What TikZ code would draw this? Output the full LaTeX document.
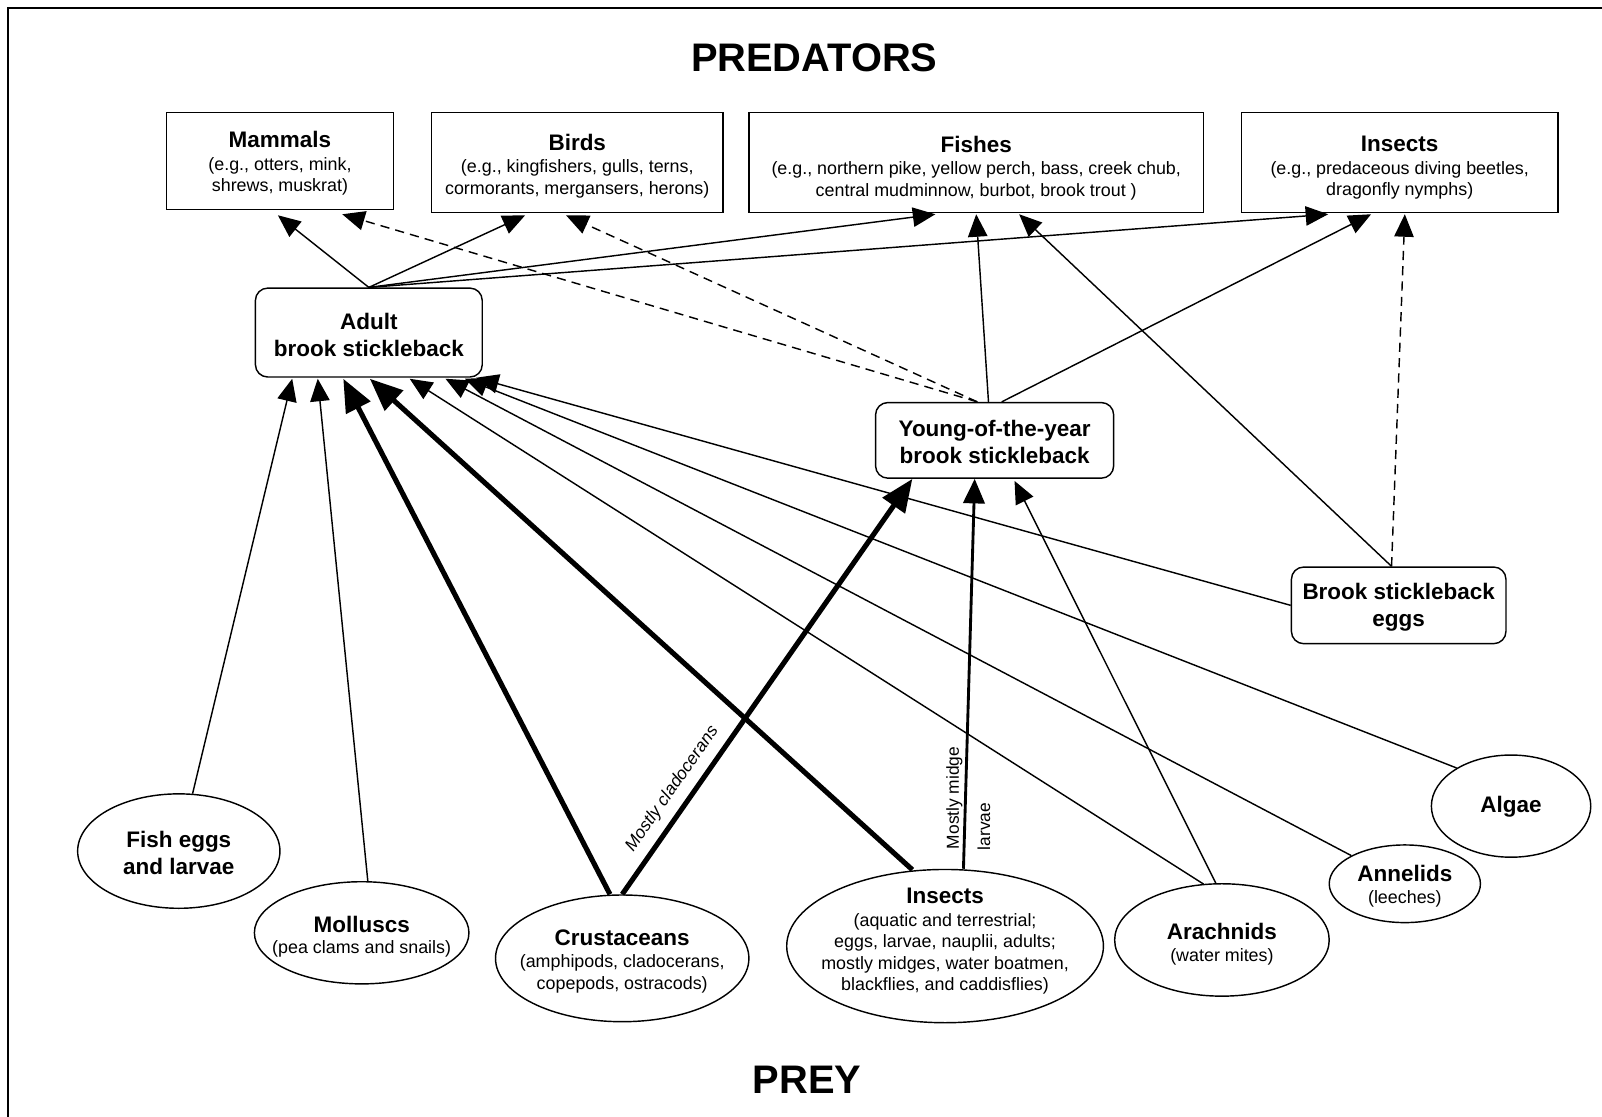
\documentclass[tikz,border=0pt]{standalone}
\usepackage{fontspec}
\setmainfont{Liberation Sans}
\usetikzlibrary{arrows.meta,shapes.geometric,calc}
\newcommand{\ttlf}{\fontsize{22}{26.5}\selectfont\bfseries}
\newcommand{\sbtf}{\fontsize{17.5}{21}\selectfont}
\newcommand{\lblf}{\fontsize{17}{20}\selectfont}
\begin{document}
\begin{tikzpicture}[x=1pt,y=-1pt,
  pbox/.style={draw, line width=1.4pt, inner sep=0pt},
  mbox/.style={draw, line width=1.4pt, rounded corners=12pt, inner sep=0pt},
  preyn/.style={draw, ellipse, line width=1.4pt, inner sep=0pt},
  txt/.style={inner sep=0pt, align=center, font=\sbtf},
  ttxt/.style={inner sep=0pt, align=center, font=\ttlf},
  thinarr/.style={line width=1.4pt, -{Triangle[length=22pt,width=19pt]}},
  thickarr/.style={line width=5pt, -{Triangle[length=32pt,width=26pt]}},
  medarr/.style={line width=2.8pt, -{Triangle[length=24pt,width=21pt]}},
  dasharr/.style={thinarr, dash pattern=on 9pt off 6pt},
  bigttl/.style={font=\fontsize{39}{44}\selectfont\bfseries, inner sep=0pt},
  lbl/.style={font=\lblf, inner sep=0pt}]
\useasboundingbox (0,0) rectangle (1568,1093);
\fill[white] (0,0) rectangle (1568,1093);
\draw[line width=2.2pt] (8,1110) -- (8,8) -- (1590,8);

% titles
\node[bigttl] (predt) at (797,57) {PREDATORS};
\node[bigttl] (preyt) at (790,1057) {PREY};

% predators
\node[pbox, minimum width=222pt, minimum height=95pt] (mammals) at (274,157.5) {};
\node[txt] (mammals-t) at ($(mammals)+(0,2.5)$)
  {{\ttlf Mammals}\\[1pt](e.g., otters, mink,\\shrews, muskrat)};
\node[pbox, minimum width=285pt, minimum height=98pt] (birds) at (565,159) {};
\node[txt] (birds-t) at ($(birds)+(0,3.5)$)
  {{\ttlf Birds}\\[1pt](e.g., kingfishers, gulls, terns,\\cormorants, mergansers, herons)};
\node[pbox, minimum width=445pt, minimum height=98pt] (fishes) at (955.5,159) {};
\node[txt] (fishes-t) at ($(fishes)+(0,5.5)$)
  {{\ttlf Fishes}\\[1pt](e.g., northern pike, yellow perch, bass, creek chub,\\central mudminnow, burbot, brook trout )};
\node[pbox, minimum width=310pt, minimum height=98pt] (inspred) at (1370,159) {};
\node[txt] (inspred-t) at ($(inspred)+(0,5.5)$)
  {{\ttlf Insects}\\[1pt](e.g., predaceous diving beetles,\\dragonfly nymphs)};

% stickleback stages
\node[mbox, minimum width=222pt, minimum height=87pt] (adult) at (361,325.5) {};
\node[ttxt] (adult-t) at ($(adult)+(0,2.5)$) {Adult\\brook stickleback};
\node[mbox, minimum width=233pt, minimum height=74pt] (young) at (973.5,431) {};
\node[ttxt] (young-t) at ($(young)+(0,2)$) {Young-of-the-year\\brook stickleback};
\node[mbox, minimum width=210pt, minimum height=75pt] (eggs) at (1369,592.5) {};
\node[ttxt] (eggs-t) at ($(eggs)+(0,2)$) {Brook stickleback\\eggs};

% prey
\node[preyn, minimum width=198pt, minimum height=112pt] (fisheggs) at (175,833) {};
\node[ttxt] (fisheggs-t) at (175,835) {Fish eggs\\and larvae};
\node[preyn, minimum width=210pt, minimum height=100pt] (molluscs) at (354,913) {};
\node[txt] (molluscs-t) at (354,917) {{\ttlf Molluscs}\\(pea clams and snails)};
\node[preyn, minimum width=248pt, minimum height=124pt] (crust) at (609,938) {};
\node[txt] (crust-t) at (609,941) {{\ttlf Crustaceans}\\[1pt](amphipods, cladocerans,\\copepods, ostracods)};
\node[preyn, minimum width=310pt, minimum height=150pt] (insprey) at (925,926) {};
\node[txt] (insprey-t) at (925,921.5) {{\ttlf Insects}\\[1pt](aquatic and terrestrial;\\eggs, larvae, nauplii, adults;\\mostly midges, water boatmen,\\blackflies, and caddisflies)};
\node[preyn, minimum width=210pt, minimum height=110pt] (arach) at (1196,920) {};
\node[txt] (arach-t) at (1196,924) {{\ttlf Arachnids}\\(water mites)};
\node[preyn, minimum width=148pt, minimum height=76pt] (annel) at (1375,865) {};
\node[txt] (annel-t) at (1375,867.5) {{\ttlf Annelids}\\(leeches)};
\node[preyn, minimum width=156pt, minimum height=100pt] (algae) at (1479,789) {};
\node[ttxt] (algae-t) at (1479,790) {Algae};

% adult -> predators
\draw[thinarr] (adult.north) -- ($(mammals.south)+(-2,5)$);
\draw[thinarr] (adult.north) -- ($(birds.south)+(-51,2)$);
\draw[thinarr] (adult.north) -- ($(fishes.south)+(-40,1)$);
\draw[thinarr] (adult.north) -- ($(inspred.south)+(-70,1)$);

% young -> predators
\draw[dasharr] ($(young.north)+(-17,0)$) -- ($(mammals.south)+(61,4)$);
\draw[dasharr] ($(young.north)+(-17,0)$) -- ($(birds.south)+(-11,2)$);
\draw[thinarr] ($(young.north)+(-6,0)$) -- ($(fishes.south)+(0,1)$);
\draw[thinarr] ($(young.north)+(7,0)$) -- ($(inspred.south)+(-28,1)$);

% eggs -> predators / adult
\draw[thinarr] ($(eggs.north)+(-7,0)$) -- ($(fishes.south)+(42,1)$);
\draw[dasharr] ($(eggs.north)+(-7,0)$) -- ($(inspred.south)+(5,1)$);
\draw[thinarr] (eggs.west) -- ($(adult.south)+(105,0)$);

% prey -> adult
\draw[thinarr] (fisheggs) -- ($(adult.south)+(-75,1)$);
\draw[thinarr] ($(molluscs.north)+(6,0)$) -- ($(adult.south)+(-50,1)$);
\draw[thickarr] ($(crust.north)+(-12,0)$) -- ($(adult.south)+(-25,1)$);
\draw[thickarr] ($(insprey.north)+(-32,1)$) -- ($(adult.south)+(1,1)$);
\draw[thinarr] ($(arach.north)+(-18,1)$) -- ($(adult.south)+(40,1)$);
\draw[thinarr] (annel) -- ($(adult.south)+(75,1)$);
\draw[thinarr] (algae.145) -- ($(adult.south)+(94,1)$);

% prey -> young
\draw[thickarr] (crust.north) -- ($(young.south)+(-80.5,0)$);
\draw[medarr] ($(insprey.north)+(18,0)$) -- ($(young.south)+(-19.5,0)$);
\draw[thinarr] ($(arach.north)+(-6,0)$) -- ($(young.south)+(19.5,2)$);

% labels
\node[lbl, rotate=55] (lab1) at (658,772) {\itshape Mostly cladocerans};
\node[lbl, rotate=90] (lab2) at (934,781) {Mostly midge};
\node[lbl, rotate=90] (lab3) at (963,809) {larvae};
\end{tikzpicture}
\end{document}
